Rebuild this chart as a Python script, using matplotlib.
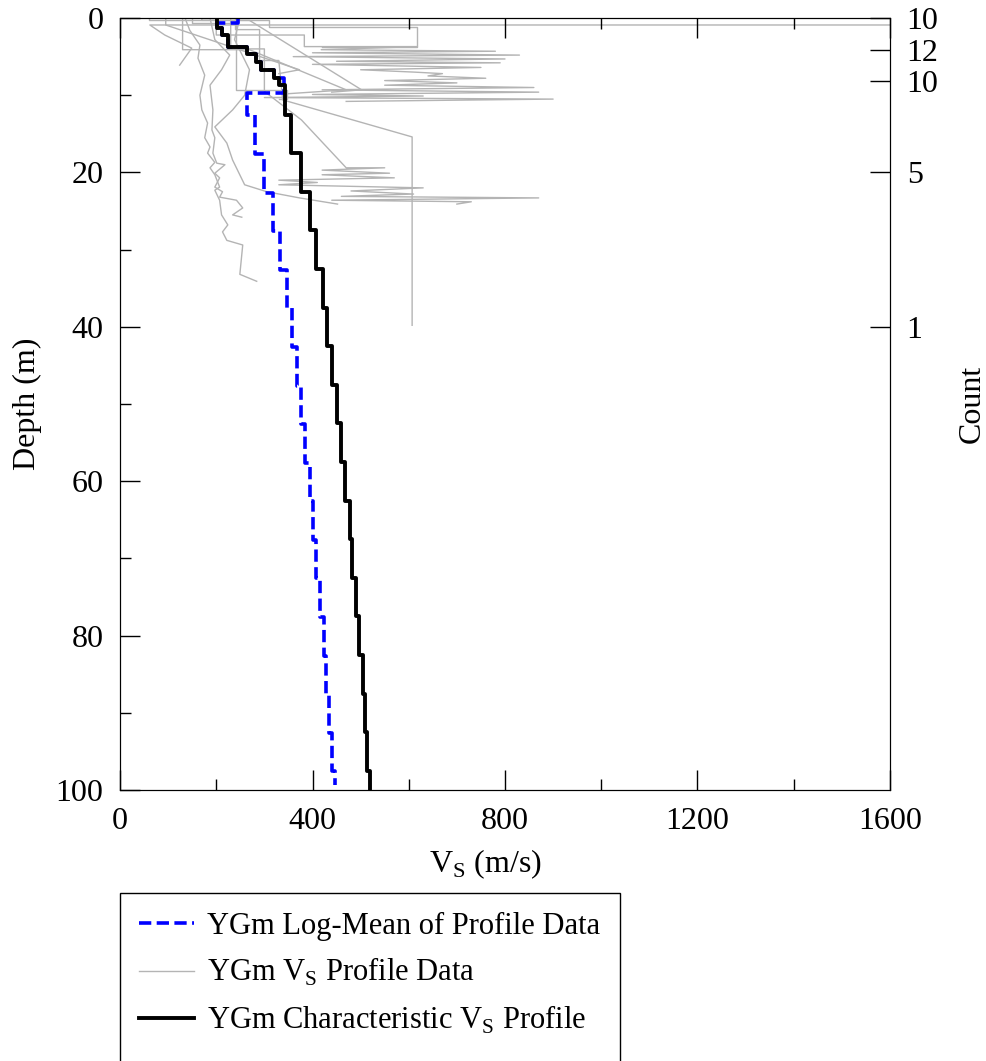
import matplotlib
matplotlib.use("Agg")
import matplotlib.pyplot as plt
from matplotlib.lines import Line2D
from matplotlib.patches import Rectangle
from matplotlib.ticker import MultipleLocator

plt.rcParams['font.family'] = ['Liberation Serif', 'DejaVu Serif']
plt.rcParams['mathtext.fontset'] = 'custom'
plt.rcParams['mathtext.rm'] = 'Liberation Serif'
FS = 23

# characteristic Vs profile (layer boundaries in m, Vs in m/s)
char_bounds = [0, 1.3, 2.2, 3.7, 4.6, 5.7, 6.7, 7.8, 8.7, 12.5, 17.5, 22.5, 27.5,
               32.5, 37.5, 42.5, 47.5, 52.5, 57.5, 62.5, 67.5, 72.5, 77.5, 82.5,
               87.5, 92.5, 97.5, 100]
char_vs = [201, 211, 224, 263, 283, 294, 321, 331, 342, 356, 377, 394, 408, 421,
           431, 441, 450, 459, 468, 477, 483, 490, 497, 504, 509, 514, 520]

# log-mean of profile data
mean_bounds = [0, 0.6, 1.3, 2.2, 3.7, 4.6, 5.7, 6.7, 7.8, 9.7, 12.6, 17.6, 22.6,
               27.6, 32.6, 37.6, 42.6, 47.6, 52.6, 57.6, 62.6, 67.6, 72.6, 77.6,
               82.6, 87.6, 92.6, 97.6, 99.4]
mean_vs = [245, 201, 211, 224, 263, 283, 294, 321, 340, 263, 280, 300, 317, 333,
           346, 357, 367, 377, 385, 394, 402, 408, 416, 423, 429, 435, 441, 446]

# individual profile data (Vs, depth)
prof_1_vs = [1650, 1650, 62, 93, 149, 124]
prof_1_d = [0, 0.9, 0.9, 2.2, 3.9, 6.1]

prof_2_vs = [135, 145, 166, 162, 176, 166, 170, 182, 176, 187, 182, 197, 187, 197,
             207, 197, 207, 211, 224, 213, 222, 255, 249, 284]
prof_2_d = [0, 1.6, 3.5, 5.2, 7.4, 10.0, 11.9, 13.6, 15.5, 16.7, 17.5, 18.7, 19.4,
            20.3, 21.9, 22.3, 23.6, 25.5, 26.8, 27.7, 28.8, 29.4, 33.2, 34.1]

prof_3_vs = [187, 197, 228, 211, 187, 193, 191, 197, 193, 201, 218, 197, 207, 197,
             213, 207, 242, 255, 234, 253]
prof_3_d = [0, 2.8, 4.8, 6.7, 8.7, 11.9, 14.5, 15.5, 17.5, 18.8, 19.0, 20.1, 20.7,
            21.9, 22.5, 23.2, 23.6, 24.6, 25.5, 25.8]

prof_4_vs = [249, 238, 269, 259, 234, 197, 222, 234, 259, 305, 373, 452]
prof_4_d = [0, 2.8, 6.7, 10.0, 11.9, 14.1, 16.2, 18.4, 21.6, 22.5, 23.3, 24.1]

prof_5_vs = [240, 240, 290, 290, 330, 338, 607, 607]
prof_5_d = [0, 1.5, 1.5, 5.5, 5.5, 10.6, 15.4, 39.8]

prof_6_vs = [200, 200, 383, 383, 618, 418, 780, 400, 830, 360, 800, 450, 790, 400,
             750, 500, 610, 670, 640, 760, 550, 700, 550, 860, 420, 870, 400, 630,
             300, 900, 470]
prof_6_d = [0, 2.2, 2.2, 3.7, 3.7, 4.1, 4.3, 4.5, 4.8, 5.0, 5.3, 5.6, 5.8, 6.0,
            6.4, 6.7, 7.0, 7.2, 7.5, 7.8, 8.1, 8.4, 8.7, 9.0, 9.3, 9.6, 9.9, 10.1,
            10.3, 10.5, 10.8]

prof_7_vs = [230, 230, 300, 300, 377, 470, 550, 420, 560, 420, 570, 330, 410, 330,
             630, 480, 610, 460, 870, 440, 730, 700]
prof_7_d = [0, 4.0, 4.0, 9.5, 13.2, 19.4, 19.4, 19.7, 20.1, 20.3, 20.7, 21.0, 21.3,
            21.6, 22.0, 22.4, 22.8, 23.1, 23.3, 23.6, 23.8, 24.1]

prof_8_vs = [170, 170, 269, 502, 440]
prof_8_d = [0, 0.3, 0.3, 9.3, 9.6]

prof_9_vs = [130, 130, 269, 470, 350]
prof_9_d = [0, 4.1, 4.1, 9.3, 9.8]

prof_10_vs = [95, 95, 373, 330]
prof_10_d = [0, 0.9, 6.7, 7.2]

prof_11_vs = [150, 150, 240, 240, 348, 348, 330]
prof_11_d = [0, 0.6, 0.6, 9.3, 9.3, 10.5, 10.5]

prof_12_vs = [60, 60, 310, 310, 618, 618, 420]
prof_12_d = [0, 0.3, 0.3, 1.1, 1.1, 3.7, 3.7]

profiles = [(prof_1_vs, prof_1_d), (prof_2_vs, prof_2_d), (prof_3_vs, prof_3_d),
            (prof_4_vs, prof_4_d), (prof_5_vs, prof_5_d), (prof_6_vs, prof_6_d),
            (prof_7_vs, prof_7_d), (prof_8_vs, prof_8_d), (prof_9_vs, prof_9_d),
            (prof_10_vs, prof_10_d), (prof_11_vs, prof_11_d), (prof_12_vs, prof_12_d)]

# number of profiles, right axis
count_depths = [0, 4.1, 8.1, 20, 40]
count_labels = ['10', '12', '10', '5', '1']


def layers_to_line(bounds, vs):
    """turn layer boundaries + velocities into a stair line"""
    x = []
    y = []
    for i in range(len(vs)):
        x += [vs[i], vs[i]]
        y += [bounds[i], bounds[i + 1]]
    return x, y


fig = plt.figure(figsize=(9.87, 10.61), dpi=100)
ax = fig.add_axes([0.1216, 0.2554, 0.7801, 0.7276])

for vs, d in profiles:
    ax.plot(vs, d, color='#b4b4b4', lw=1.0, zorder=1)

mx, my = layers_to_line(mean_bounds, mean_vs)
ax.plot(mx, my, color='#0000ff', lw=2.6, ls=(0, (3.4, 1.5)), zorder=2)
cx, cy = layers_to_line(char_bounds, char_vs)
ax.plot(cx, cy, color='black', lw=2.8, zorder=3)

ax.set_xlim(0, 1600)
ax.set_ylim(100, 0)
ax.xaxis.set_major_locator(MultipleLocator(400))
ax.xaxis.set_minor_locator(MultipleLocator(200))
ax.yaxis.set_major_locator(MultipleLocator(20))
ax.yaxis.set_minor_locator(MultipleLocator(10))
ax.tick_params(which='both', direction='in', top=True, bottom=True, left=True,
               right=False, labelsize=FS, width=1)
ax.tick_params(which='major', length=14.5, pad=12)
ax.tick_params(which='minor', length=8)
ax.tick_params(axis='y', which='major', right=True)
ax.set_xlabel(r'V$_\mathregular{S}$ (m/s)', fontsize=FS)
ax.xaxis.set_label_coords(0.474, -0.074)
ax.set_ylabel('Depth (m)', fontsize=FS, labelpad=10)

ax2 = ax.twinx()
ax2.set_ylim(100, 0)
ax2.set_yticks(count_depths)
ax2.set_yticklabels(count_labels)
ax2.tick_params(direction='in', length=14.5, labelsize=FS, pad=12, width=1)
ax2.set_ylabel('Count', fontsize=FS, labelpad=14)

handles = [Line2D([], [], color='#0000ff', lw=2.6, ls=(0, (3.4, 1.5))),
           Line2D([], [], color='#b4b4b4', lw=1.0),
           Line2D([], [], color='black', lw=2.8)]
labels = ['YGm Log-Mean of Profile Data',
          r'YGm V$_\mathregular{S}$ Profile Data',
          r'YGm Characteristic V$_\mathregular{S}$ Profile']
fig.legend(handles, labels, loc='upper left', bbox_to_anchor=(0.128, 0.152),
           frameon=False, fontsize=22, handlelength=1.8, handletextpad=0.45,
           labelspacing=0.5, borderaxespad=0)
fig.patches.append(Rectangle((0.1216, -0.02), 0.5065, 0.178, transform=fig.transFigure,
                             fill=False, ec='black', lw=1.0))

fig.savefig('out.png', dpi=100)
